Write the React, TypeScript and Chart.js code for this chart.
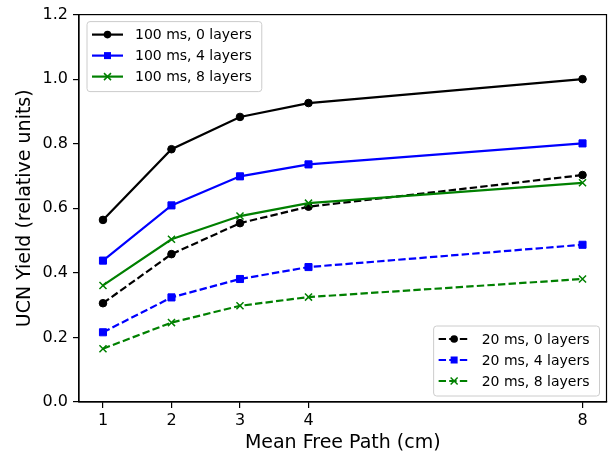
import React, { useEffect, useRef } from 'react';
import { Chart, registerables } from 'chart.js';

Chart.register(...registerables);

// Mean free path (cm)
const meanFreePath = [1, 2, 3, 4, 8];
const xTickValues = [1, 2, 3, 4, 8];
const yTickStep = 0.2;

const yield100ms0 = [0.564, 0.783, 0.883, 0.926, 1.0];
const yield100ms4 = [0.438, 0.609, 0.699, 0.736, 0.801];
const yield100ms8 = [0.361, 0.504, 0.576, 0.616, 0.679];
const yield20ms0 = [0.306, 0.458, 0.554, 0.605, 0.703];
const yield20ms4 = [0.216, 0.324, 0.381, 0.418, 0.487];
const yield20ms8 = [0.165, 0.246, 0.298, 0.325, 0.381];

const labels100 = ['100 ms, 0 layers', '100 ms, 4 layers', '100 ms, 8 layers'];
const labels20 = ['20 ms, 0 layers', '20 ms, 4 layers', '20 ms, 8 layers'];

const xTitle = 'Mean Free Path (cm)';
const yTitle = 'UCN Yield (relative units)';

const FONT = "'DejaVu Sans', sans-serif";
const COLORS = ['#000000', '#0000ff', '#008000'];
const MARKERS = ['circle', 'rect', 'crossRot'];
const DASH = [7.4, 3.2];

function drawMarker(ctx: CanvasRenderingContext2D, kind: string, x: number, y: number, color: string) {
  ctx.save();
  ctx.setLineDash([]);
  ctx.fillStyle = color;
  ctx.strokeStyle = color;
  ctx.lineWidth = 1.5;
  if (kind === 'circle') {
    ctx.beginPath();
    ctx.arc(x, y, 3.8, 0, Math.PI * 2);
    ctx.fill();
  } else if (kind === 'rect') {
    const s = 3.5;
    ctx.fillRect(x - s, y - s, 2 * s, 2 * s);
  } else {
    const s = 3.5;
    ctx.beginPath();
    ctx.moveTo(x - s, y - s);
    ctx.lineTo(x + s, y + s);
    ctx.moveTo(x - s, y + s);
    ctx.lineTo(x + s, y - s);
    ctx.stroke();
  }
  ctx.restore();
}

function roundRect(ctx: CanvasRenderingContext2D, x: number, y: number, w: number, h: number, r: number) {
  ctx.beginPath();
  ctx.moveTo(x + r, y);
  ctx.lineTo(x + w - r, y);
  ctx.arcTo(x + w, y, x + w, y + r, r);
  ctx.lineTo(x + w, y + h - r);
  ctx.arcTo(x + w, y + h, x + w - r, y + h, r);
  ctx.lineTo(x + r, y + h);
  ctx.arcTo(x, y + h, x, y + h - r, r);
  ctx.lineTo(x, y + r);
  ctx.arcTo(x, y, x + r, y, r);
  ctx.closePath();
}

function drawLegend(
  ctx: CanvasRenderingContext2D,
  items: string[],
  dashed: boolean,
  anchor: { left?: number; top?: number; right?: number; bottom?: number }
) {
  ctx.save();
  ctx.font = `14px ${FONT}`;
  const textW = Math.max(...items.map((t) => ctx.measureText(t).width));
  const padL = 5;
  const handle = 31;
  const gap = 12;
  const padR = 10;
  const w = padL + handle + gap + textW + padR;
  const h = 70;
  const left = anchor.left !== undefined ? anchor.left : (anchor.right as number) - w;
  const top = anchor.top !== undefined ? anchor.top : (anchor.bottom as number) - h;
  roundRect(ctx, left, top, w, h, 3);
  ctx.fillStyle = 'rgba(255,255,255,0.8)';
  ctx.fill();
  ctx.strokeStyle = '#cccccc';
  ctx.lineWidth = 1;
  ctx.stroke();
  items.forEach((t, i) => {
    const cy = top + 13 + i * 21;
    const hx = left + padL;
    ctx.save();
    ctx.strokeStyle = COLORS[i];
    ctx.lineWidth = 2.2;
    ctx.setLineDash(dashed ? DASH : []);
    ctx.beginPath();
    ctx.moveTo(hx, cy);
    ctx.lineTo(hx + handle, cy);
    ctx.stroke();
    ctx.restore();
    drawMarker(ctx, MARKERS[i], hx + handle / 2, cy, COLORS[i]);
    ctx.fillStyle = '#000';
    ctx.textBaseline = 'middle';
    ctx.textAlign = 'left';
    ctx.fillText(t, hx + handle + gap, cy + 1);
  });
  ctx.restore();
}

const framePlugin = {
  id: 'frameAndLegends',
  afterDatasetsDraw(chart: any) {
    const { ctx, chartArea } = chart;
    ctx.save();
    ctx.strokeStyle = '#000';
    ctx.lineWidth = 1.2;
    ctx.strokeRect(chartArea.left, chartArea.top, chartArea.right - chartArea.left, chartArea.bottom - chartArea.top);
    ctx.restore();
    drawLegend(ctx, labels100, false, { left: chartArea.left + 8, top: chartArea.top + 7 });
    drawLegend(ctx, labels20, true, { right: chartArea.right - 7, bottom: chartArea.bottom - 6 });
  },
};

function toPoints(values: number[]) {
  return meanFreePath.map((x, i) => ({ x, y: values[i] }));
}

function makeDataset(label: string, values: number[], idx: number, dashed: boolean) {
  return {
    label,
    data: toPoints(values),
    borderColor: COLORS[idx],
    backgroundColor: COLORS[idx],
    borderWidth: 2.2,
    borderDash: dashed ? DASH : [],
    pointStyle: MARKERS[idx],
    pointRadius: MARKERS[idx] === 'circle' ? 3.8 : 5,
    pointBorderWidth: MARKERS[idx] === 'crossRot' ? 1.5 : 1,
    pointBackgroundColor: COLORS[idx],
    pointBorderColor: COLORS[idx],
    fill: false,
    tension: 0,
  };
}

export default function App() {
  const ref = useRef<HTMLCanvasElement | null>(null);
  useEffect(() => {
    if (!ref.current) return;
    const chart = new Chart(ref.current, {
      type: 'line',
      data: {
        datasets: [
          makeDataset(labels100[0], yield100ms0, 0, false),
          makeDataset(labels100[1], yield100ms4, 1, false),
          makeDataset(labels100[2], yield100ms8, 2, false),
          makeDataset(labels20[0], yield20ms0, 0, true),
          makeDataset(labels20[1], yield20ms4, 1, true),
          makeDataset(labels20[2], yield20ms8, 2, true),
        ] as any,
      },
      options: {
        responsive: false,
        animation: false,
        devicePixelRatio: 1,
        layout: { padding: { left: 0, right: 6, top: 10, bottom: 0 } },
        plugins: { legend: { display: false }, tooltip: { enabled: false } },
        font: { family: FONT },
        scales: {
          x: {
            type: 'linear',
            min: 0.65,
            max: 8.35,
            afterBuildTicks: (s: any) => {
              s.ticks = xTickValues.map((v) => ({ value: v }));
            },
            afterFit: (s: any) => {
              s.height = 55;
            },
            grid: { display: true, drawOnChartArea: false, drawTicks: true, tickLength: 6, color: '#000', lineWidth: 1.2 },
            border: { display: true, color: '#000', width: 1.2 },
            ticks: {
              color: '#000',
              font: { family: FONT, size: 16 },
              padding: 3,
              maxRotation: 0,
              autoSkip: false,
              callback: (v: any) => String(v),
            },
            title: {
              display: true,
              text: xTitle,
              color: '#000',
              font: { family: FONT, size: 19 },
              padding: { top: 0, bottom: 3 },
            },
          },
          y: {
            type: 'linear',
            min: 0,
            max: 1.2,
            afterFit: (s: any) => {
              s.width = 79;
            },
            grid: { display: true, drawOnChartArea: false, drawTicks: true, tickLength: 6, color: '#000', lineWidth: 1.2 },
            border: { display: true, color: '#000', width: 1.2 },
            ticks: {
              color: '#000',
              font: { family: FONT, size: 16 },
              padding: 5,
              stepSize: yTickStep,
              callback: (v: any) => Number(v).toFixed(1),
            },
            title: {
              display: true,
              text: yTitle,
              color: '#000',
              font: { family: FONT, size: 19 },
              padding: { top: 14, bottom: 0 },
            },
          },
        },
      } as any,
      plugins: [framePlugin],
    });
    return () => chart.destroy();
  }, []);
  return (
    <div style={{ position: 'absolute', left: 0, top: 0, width: 613, height: 457, background: '#fff' }}>
      <canvas ref={ref} width={613} height={457} style={{ display: 'block', width: 613, height: 457 }} />
    </div>
  );
}
